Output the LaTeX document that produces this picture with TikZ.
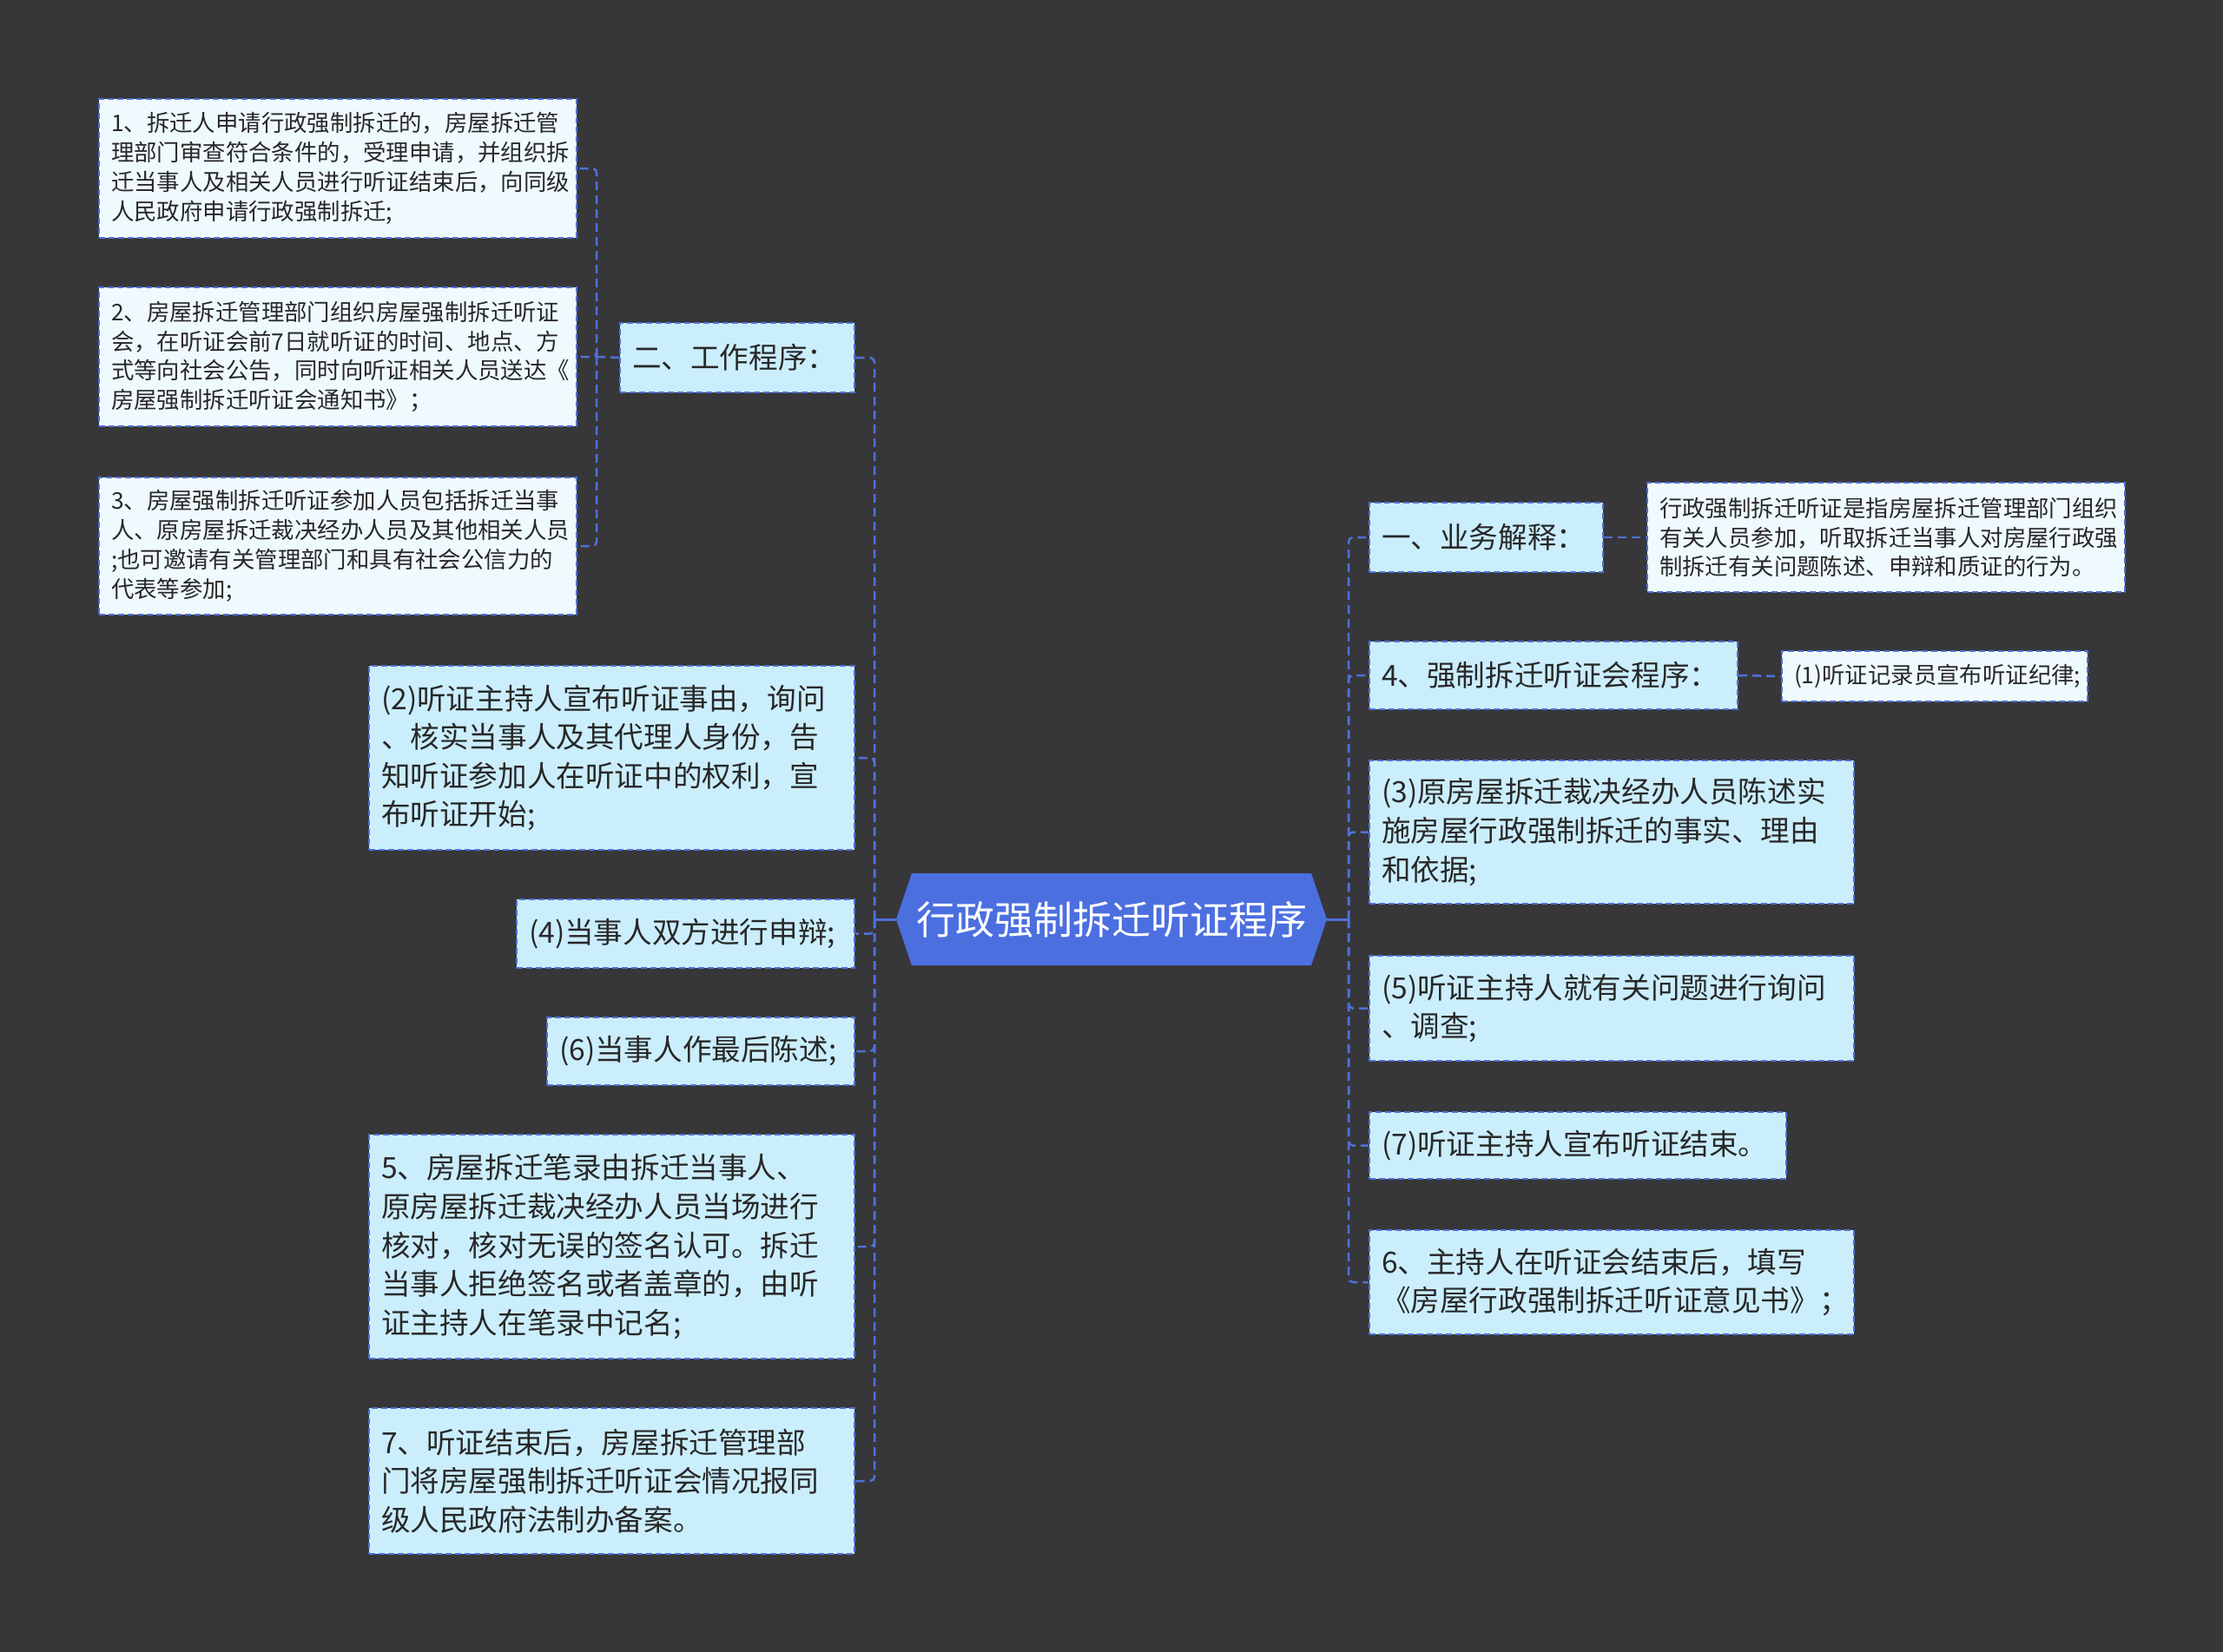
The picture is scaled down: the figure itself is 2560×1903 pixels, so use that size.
\documentclass[tikz,border=0pt]{standalone}
\usepackage{fontspec}
\setmainfont{Noto Sans CJK SC}
\definecolor{bg}{RGB}{55,55,57}
\definecolor{nodeblue}{RGB}{203,238,253}
\definecolor{leafpale}{RGB}{239,250,254}
\definecolor{lineblue}{RGB}{80,112,216}
\definecolor{mainblue}{RGB}{76,111,224}
\definecolor{textdark}{RGB}{40,40,40}
\tikzset{
  boxbase/.style={draw=lineblue, line width=2pt, dash pattern=on 7pt off 4pt, text=textdark,
    inner xsep=14pt, inner ysep=0pt, align=left, anchor=north west},
  bigbox/.style={boxbase, fill=nodeblue, font=\fontsize{33.6pt}{44.6pt}\selectfont},
  smallbox/.style={boxbase, fill=leafpale, font=\fontsize{26.4pt}{33.8pt}\selectfont},
  conn/.style={draw=lineblue, line width=2.5pt, dash pattern=on 10pt off 6pt, rounded corners=5pt},
  connsolid/.style={draw=lineblue, line width=3pt},
}
\begin{document}
\begin{tikzpicture}[x=1pt,y=-1pt]
\fill[bg] (0,0) rectangle (2560,1903);
\useasboundingbox (0,0) rectangle (2560,1903);

% main node
\fill[mainblue] (1032,1059) -- (1050,1006) -- (1510,1006) -- (1528,1059) -- (1510,1112) -- (1050,1112) -- cycle;
\node[minimum width=496pt, minimum height=106pt, inner sep=0pt, text=white,
  font=\fontsize{45pt}{50pt}\selectfont] (main) at (1280,1059) {行政强制拆迁听证程序};

% left side
\node[bigbox, text width=242pt, minimum height=80pt] (work) at (713,371) {二、工作程序：};
\node[smallbox, text width=522pt, minimum height=160pt] (l1) at (113,113)
  {1、拆迁人申请行政强制拆迁的，房屋拆迁管\\理部门审查符合条件的，受理申请，并组织拆\\迁当事人及相关人员进行听证结束后，向同级\\人民政府申请行政强制拆迁;};
\node[smallbox, text width=522pt, minimum height=160pt] (l2) at (113,330)
  {2、房屋拆迁管理部门组织房屋强制拆迁听证\\会，在听证会前7日就听证的时间、地点、方\\式等向社会公告，同时向听证相关人员送达《\\房屋强制拆迁听证会通知书》；};
\node[smallbox, text width=522pt, minimum height=158pt] (l3) at (113,549)
  {3、房屋强制拆迁听证参加人员包括拆迁当事\\人、原房屋拆迁裁决经办人员及其他相关人员\\;也可邀请有关管理部门和具有社会公信力的\\代表等参加;};
\node[bigbox, text width=531pt, minimum height=212pt] (n2) at (424,766)
  {(2)听证主持人宣布听证事由，询问\\、核实当事人及其代理人身份，告\\知听证参加人在听证中的权利，宣\\布听证开始;};
\node[bigbox, text width=361pt, minimum height=79pt] (n4) at (594,1035) {(4)当事人双方进行申辩;};
\node[bigbox, text width=326pt, minimum height=78pt] (n6) at (629,1171) {(6)当事人作最后陈述;};
\node[bigbox, text width=531pt, minimum height=258pt] (n5) at (424,1306)
  {5、房屋拆迁笔录由拆迁当事人、\\原房屋拆迁裁决经办人员当场进行\\核对，核对无误的签名认可。拆迁\\当事人拒绝签名或者盖章的，由听\\证主持人在笔录中记名;};
\node[bigbox, text width=531pt, minimum height=168pt] (n7) at (424,1621)
  {7、听证结束后，房屋拆迁管理部\\门将房屋强制拆迁听证会情况报同\\级人民政府法制办备案。};

% right side
\node[bigbox, text width=241pt, minimum height=80pt] (biz) at (1576,578) {一、业务解释：};
\node[smallbox, text width=522pt, minimum height=126pt] (def) at (1896,555)
  {行政强制拆迁听证是指房屋拆迁管理部门组织\\有关人员参加，听取拆迁当事人对房屋行政强\\制拆迁有关问题陈述、申辩和质证的行为。};
\node[bigbox, text width=396pt, minimum height=78pt] (p4) at (1576,738) {4、强制拆迁听证会程序：};
\node[smallbox, text width=324pt, minimum height=58pt] (p1) at (2051,749) {(1)听证记录员宣布听证纪律;};
\node[bigbox, text width=530pt, minimum height=165pt] (p3) at (1576,875)
  {(3)原房屋拆迁裁决经办人员陈述实\\施房屋行政强制拆迁的事实、理由\\和依据;};
\node[bigbox, text width=530pt, minimum height=121pt] (p5) at (1576,1100)
  {(5)听证主持人就有关问题进行询问\\、调查;};
\node[bigbox, text width=452pt, minimum height=77pt] (p7) at (1576,1280) {(7)听证主持人宣布听证结束。};
\node[bigbox, text width=530pt, minimum height=120pt] (p6) at (1576,1416)
  {6、主持人在听证会结束后，填写\\《房屋行政强制拆迁听证意见书》；};

% connectors
\coordinate (lt) at (1007,1059);
\coordinate (rt) at (1553,1059);
\coordinate (bk) at (687,411);
\draw[connsolid] (main.west) -- (lt);
\draw[connsolid] (main.east) -- (rt);
\foreach \n in {work,n2,n4,n6,n5,n7} {\draw[conn] (lt) |- (\n.east);}
\foreach \n in {biz,p4,p3,p5,p7,p6} {\draw[conn] (rt) |- (\n.west);}
\draw[conn] (work.west) -- (bk);
\foreach \n in {l1,l2,l3} {\draw[conn] (bk) |- (\n.east);}
\draw[conn] (biz.east) -- (def.west);
\draw[conn] (p4.east) -- (p1.west);
\end{tikzpicture}
\end{document}
